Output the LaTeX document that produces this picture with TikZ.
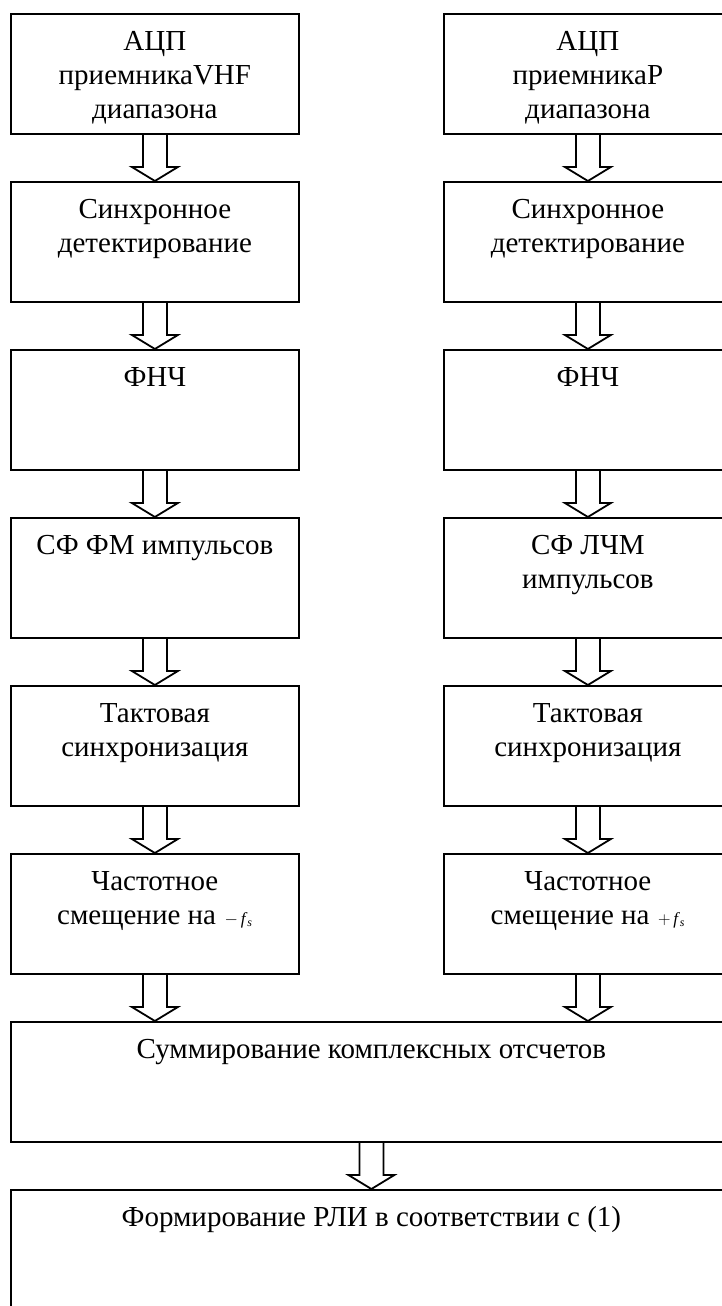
\documentclass[tikz,border=0pt]{standalone}
\usepackage{fontspec}
\setmainfont{Liberation Serif}
\usetikzlibrary{calc}
\tikzset{
  blk/.style={draw, line width=1.8pt, inner sep=0pt, anchor=north west, minimum height=120pt},
  colblk/.style={blk, minimum width=288pt},
  wideblk/.style={blk, minimum width=721pt},
  txt/.style={anchor=north, inner sep=0pt, align=center, font=\fontsize{29}{34}\selectfont},
  arr/.style={draw, line width=1.8pt, line join=miter}
}
\newcommand\fl{\rule{0pt}{20pt}}
\newcommand\fatarr[2]{\draw[arr] ($(#1)+(-12pt,0)$) -- ($(#2)+(-12pt,14pt)$) -- ($(#2)+(-23pt,14pt)$) -- (#2) -- ($(#2)+(23pt,14pt)$) -- ($(#2)+(12pt,14pt)$) -- ($(#1)+(12pt,0)$);}
\newcommand\fsm[1]{{\fontsize{17}{17}\selectfont\ \ $#1$\,\textit{f}\textsubscript{\textit{s}}}}
\begin{document}
\begin{tikzpicture}[x=1pt,y=1pt]
\useasboundingbox (0,0) rectangle (722,-1306);
\clip (0,0) rectangle (722,-1306);
% left column
\node[colblk] (l1) at (10,-13) {};
\node[colblk] (l2) at (10,-181) {};
\node[colblk] (l3) at (10,-349) {};
\node[colblk] (l4) at (10,-517) {};
\node[colblk] (l5) at (10,-685) {};
\node[colblk] (l6) at (10,-853) {};
% right column
\node[colblk] (r1) at (443,-13) {};
\node[colblk] (r2) at (443,-181) {};
\node[colblk] (r3) at (443,-349) {};
\node[colblk] (r4) at (443,-517) {};
\node[colblk] (r5) at (443,-685) {};
\node[colblk] (r6) at (443,-853) {};
% wide
\node[wideblk] (sum) at (10,-1021) {};
\node[wideblk, minimum height=160pt] (rli) at (10,-1189) {};
% texts
\node[txt] (tl1) at ($(l1.north)+(0,-17)$) {\fl АЦП\\приемникаVHF\\диапазона};
\node[txt] (tl2) at ($(l2.north)+(0,-17)$) {\fl Синхронное\\детектирование};
\node[txt] (tl3) at ($(l3.north)+(0,-17)$) {\fl ФНЧ};
\node[txt] (tl4) at ($(l4.north)+(0,-17)$) {\fl СФ ФМ импульсов};
\node[txt] (tl5) at ($(l5.north)+(0,-17)$) {\fl Тактовая\\синхронизация};
\node[txt] (tl6) at ($(l6.north)+(0,-17)$) {\fl Частотное\\смещение на\fsm{-}};
\node[txt] (tr1) at ($(r1.north)+(0,-17)$) {\fl АЦП\\приемникаР\\диапазона};
\node[txt] (tr2) at ($(r2.north)+(0,-17)$) {\fl Синхронное\\детектирование};
\node[txt] (tr3) at ($(r3.north)+(0,-17)$) {\fl ФНЧ};
\node[txt] (tr4) at ($(r4.north)+(0,-17)$) {\fl СФ ЛЧМ\\импульсов};
\node[txt] (tr5) at ($(r5.north)+(0,-17)$) {\fl Тактовая\\синхронизация};
\node[txt] (tr6) at ($(r6.north)+(0,-17)$) {\fl Частотное\\смещение на\fsm{+}};
\node[txt] (tsum) at ($(sum.north)+(0,-17)$) {\fl Суммирование комплексных отсчетов};
\node[txt] (trli) at ($(rli.north)+(0,-17)$) {\fl Формирование РЛИ в соответствии с (1)};
% arrows
\fatarr{l1.south}{l2.north}
\fatarr{l2.south}{l3.north}
\fatarr{l3.south}{l4.north}
\fatarr{l4.south}{l5.north}
\fatarr{l5.south}{l6.north}
\fatarr{r1.south}{r2.north}
\fatarr{r2.south}{r3.north}
\fatarr{r3.south}{r4.north}
\fatarr{r4.south}{r5.north}
\fatarr{r5.south}{r6.north}
\fatarr{l6.south}{l6.south |- sum.north}
\fatarr{r6.south}{r6.south |- sum.north}
\fatarr{sum.south}{rli.north}
\end{tikzpicture}
\end{document}
